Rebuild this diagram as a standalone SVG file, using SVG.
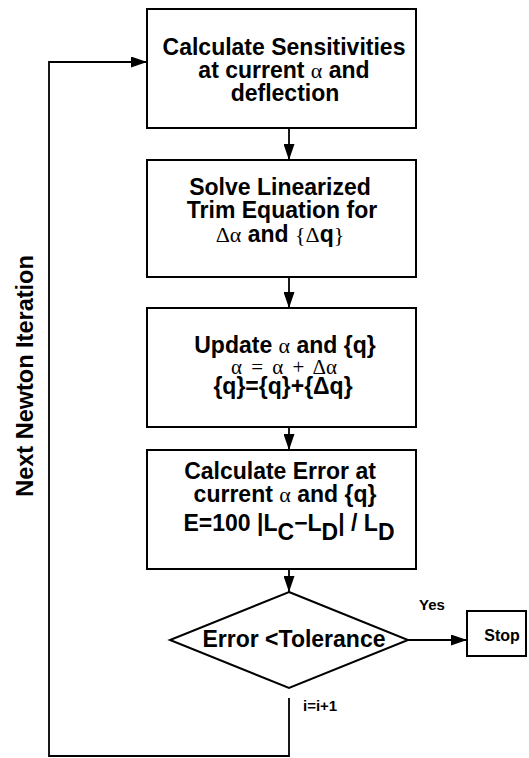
<svg xmlns="http://www.w3.org/2000/svg" width="529" height="758" viewBox="0 0 529 758">
  <style>
    .box { fill: #ffffff; stroke: #000000; stroke-width: 2; }
    .edge { fill: none; stroke: #000000; stroke-width: 1.8; }
    .t { font-family: "Liberation Sans", Arial, sans-serif; font-weight: bold; font-size: 23px; fill: #000000; text-anchor: middle; }
    .small { font-size: 15px; }
    .greek { font-family: "Liberation Serif", "Times New Roman", serif; font-weight: normal; font-size: 22px; }
    .math { font-family: "Liberation Serif", "Times New Roman", serif; font-weight: normal; font-size: 21px; word-spacing: 4px; }
  </style>
  <defs>
    <marker id="arrow" viewBox="0 0 16 11" refX="16" refY="5.5" markerWidth="16" markerHeight="11" markerUnits="userSpaceOnUse" orient="auto">
      <path d="M0,0 L16,5.5 L0,11 z" fill="#000000"/>
    </marker>
  </defs>

  <!-- connectors -->
  <g id="connectors">
    <line class="edge" x1="289" y1="128" x2="289" y2="160" marker-end="url(#arrow)"/>
    <line class="edge" x1="289" y1="277" x2="289" y2="308" marker-end="url(#arrow)"/>
    <line class="edge" x1="289" y1="427" x2="289" y2="450" marker-end="url(#arrow)"/>
    <line class="edge" x1="289" y1="569" x2="289" y2="592" marker-end="url(#arrow)"/>
    <line class="edge" x1="408" y1="640" x2="467" y2="640" marker-end="url(#arrow)"/>
    <polyline class="edge" points="289,698 289,756 49,756 49,62 147,62" marker-end="url(#arrow)"/>
    <text class="t small" x="432" y="610">Yes</text>
    <text class="t small" x="303" y="711" style="text-anchor:start">i=i+1</text>
    <text class="t" transform="translate(33,376) rotate(-90)" style="font-size:23.5px">Next Newton Iteration</text>
  </g>

  <!-- step 1 -->
  <g id="sensitivities">
    <rect class="box" x="147" y="9" width="269" height="119"/>
    <text class="t" x="284" y="55">Calculate Sensitivities</text>
    <text class="t" x="284" y="78">at current <tspan class="greek">α</tspan> and</text>
    <text class="t" x="285" y="101">deflection</text>
  </g>

  <!-- step 2 -->
  <g id="solve">
    <rect class="box" x="147" y="160" width="269" height="117"/>
    <text class="t" x="280" y="195">Solve Linearized</text>
    <text class="t" x="282" y="218">Trim Equation for</text>
    <text class="t" x="280" y="242"><tspan class="greek">Δα</tspan> and <tspan class="greek">{Δ</tspan>q<tspan class="greek">}</tspan></text>
  </g>

  <!-- step 3 -->
  <g id="update">
    <rect class="box" x="147" y="308" width="269" height="119"/>
    <text class="t" x="285" y="353">Update <tspan class="greek">α</tspan> and {q}</text>
    <text class="t math" x="284" y="374">α = α + Δα</text>
    <text class="t" x="283" y="394">{q}={q}+{Δq}</text>
  </g>

  <!-- step 4 -->
  <g id="error">
    <rect class="box" x="147" y="450" width="269" height="119"/>
    <text class="t" x="280" y="479">Calculate Error at</text>
    <text class="t" x="285" y="502">current <tspan class="greek">α</tspan> and {q}</text>
    <text class="t" x="289" y="531">E=100 |L<tspan dy="9">C</tspan><tspan dy="-9">−L</tspan><tspan dy="9">D</tspan><tspan dy="-9">| / L</tspan><tspan dy="9">D</tspan></text>
  </g>

  <!-- decision -->
  <g id="decision">
    <polygon class="box" points="289,592 408,640 289,688 170,640"/>
    <text class="t" x="294" y="647">Error &lt;Tolerance</text>
  </g>

  <!-- end -->
  <g id="stop">
    <rect class="box" x="467" y="611" width="59" height="45"/>
    <text class="t" x="502" y="641" style="font-size:16px">Stop</text>
  </g>
</svg>
